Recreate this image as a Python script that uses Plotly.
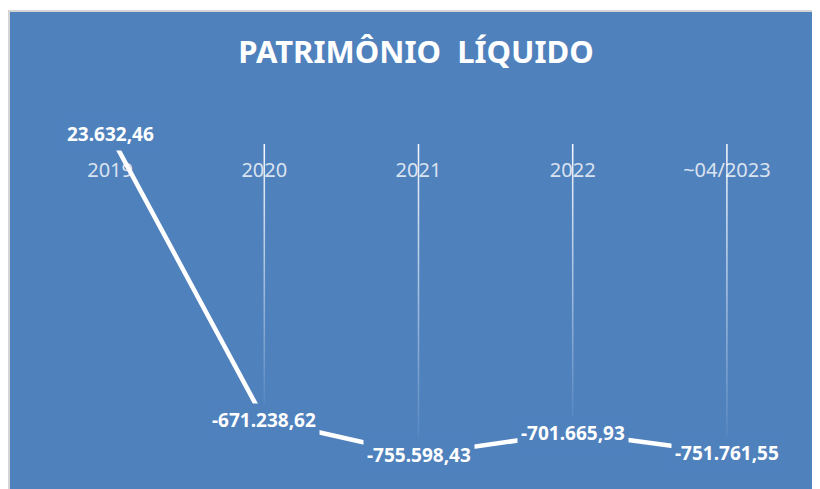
import plotly.graph_objects as go

# dados do gráfico
categorias = ["2019", "2020", "2021", "2022", "~04/2023"]
valores = [23632.46, -671238.62, -755598.43, -701665.93, -751761.55]

AZUL = "#4F81BD"
BRANCO = "#FFFFFF"
FONTE = "Noto Sans"

W, H = 820, 489
M = dict(l=25, r=24, t=95, b=24)
PW = W - M["l"] - M["r"]
PH = H - M["t"] - M["b"]


def fmt_br(v):
    # 1,234.56 -> 1.234,56
    s = f"{v:,.2f}"
    return s.replace(",", "#").replace(".", ",").replace("#", ".")


idx = list(range(len(categorias)))

fig = go.Figure()

# rótulos das categorias logo abaixo do eixo (y = 0)
fig.add_trace(go.Scatter(
    x=idx, y=[0] * len(idx), mode="markers+text",
    marker=dict(size=27, opacity=0),
    text=categorias, textposition="bottom center",
    textfont=dict(family=FONTE, size=20, color="rgba(255,255,255,0.8)"),
    hoverinfo="skip", showlegend=False
))

# linhas de queda com gradiente
meia = 0.005
for i, v in zip(idx, valores):
    fig.add_trace(go.Scatter(
        x=[i - meia, i + meia, i + meia, i - meia, i - meia],
        y=[0, 0, v, v, 0],
        mode="lines", line=dict(width=0),
        fill="toself",
        fillgradient=dict(
            type="vertical",
            colorscale=[[0, "rgba(255,255,255,0.0)"], [1, "rgba(255,255,255,0.95)"]],
        ),
        hoverinfo="skip", showlegend=False
    ))

# linha principal
fig.add_trace(go.Scatter(
    x=idx, y=valores, mode="lines",
    line=dict(color=BRANCO, width=4.5),
    hoverinfo="skip", showlegend=False
))

# rótulos de dados com fundo (escondem a linha)
for i, v in zip(idx, valores):
    fig.add_annotation(
        x=i, y=v, text=f"<b>{fmt_br(v)}</b>", showarrow=False,
        font=dict(family=FONTE, size=19, color=BRANCO),
        bgcolor=AZUL, borderpad=3,
        xanchor="center", yanchor="middle"
    )

# fundo do gráfico com borda cinza à esquerda/topo
fig.add_shape(
    type="rect", xref="paper", yref="paper", layer="below",
    x0=(1 - M["l"]) / PW, x1=(W + 10 - M["l"]) / PW,
    y0=(H - M["b"] - (H + 10)) / PH, y1=(H - M["b"] - 3) / PH,
    fillcolor=AZUL, line=dict(color="#D4D4D4", width=2)
)

fig.update_layout(
    width=W, height=H,
    margin=M,
    paper_bgcolor=BRANCO,
    plot_bgcolor="rgba(0,0,0,0)",
    title=dict(
        text="<b>PATRIMÔNIO  LÍQUIDO</b>",
        x=(416 - 8) / W, xanchor="center",
        y=1 - 44 / H, yref="container", yanchor="middle",
        font=dict(family=FONTE, size=31, color=BRANCO)
    ),
    xaxis=dict(range=[-0.5, 4.5], visible=False, fixedrange=True),
    yaxis=dict(range=[-800000, 100000], visible=False, fixedrange=True),
    showlegend=False
)

fig.write_html("out.html")
